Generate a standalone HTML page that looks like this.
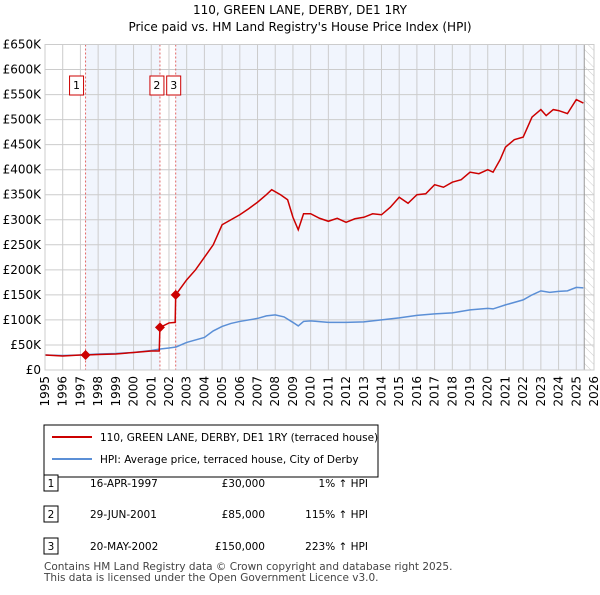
<!DOCTYPE html>
<html><head><meta charset="utf-8"><style>
body{margin:0;background:#fff;width:600px;height:590px;overflow:hidden;font-family:"Liberation Sans","DejaVu Sans",sans-serif}
svg text{font-family:"DejaVu Sans","Liberation Sans",sans-serif}
</style></head><body>
<svg id="c" width="600" height="590" xmlns="http://www.w3.org/2000/svg">
<defs><pattern id="hatch" width="6" height="6" patternUnits="userSpaceOnUse" patternTransform="rotate(-45)"><line x1="0" y1="0" x2="0" y2="6" stroke="#ccc" stroke-width="1"/></pattern></defs>
<text x="300" y="14" text-anchor="middle" font-size="12" fill="#000">110, GREEN LANE, DERBY, DE1 1RY</text>
<text x="300" y="31" text-anchor="middle" font-size="12" fill="#000">Price paid vs. HM Land Registry's House Price Index (HPI)</text>
<g id="plot"></g>
<rect x="44" y="425" width="334" height="52" fill="#fff" stroke="#000" stroke-width="1"/>
<line x1="52" y1="437" x2="92" y2="437" stroke="#cc0000" stroke-width="2"/>
<text x="100" y="441" font-size="10.5">110, GREEN LANE, DERBY, DE1 1RY (terraced house)</text>
<line x1="52" y1="459" x2="92" y2="459" stroke="#5b8fd6" stroke-width="2"/>
<text x="100" y="463" font-size="10.5">HPI: Average price, terraced house, City of Derby</text>
<g font-size="10.5">
<rect x="44" y="475" width="14" height="16" fill="#fff" stroke="#000"/><text x="51" y="487" text-anchor="middle">1</text>
<text x="90" y="487">16-APR-1997</text><text x="265" y="487" text-anchor="end">£30,000</text><text x="368" y="487" text-anchor="end">1% ↑ HPI</text>
<rect x="44" y="506" width="14" height="16" fill="#fff" stroke="#000"/><text x="51" y="518" text-anchor="middle">2</text>
<text x="90" y="518">29-JUN-2001</text><text x="265" y="518" text-anchor="end">£85,000</text><text x="368" y="518" text-anchor="end">115% ↑ HPI</text>
<rect x="44" y="538" width="14" height="16" fill="#fff" stroke="#000"/><text x="51" y="550" text-anchor="middle">3</text>
<text x="90" y="550">20-MAY-2002</text><text x="265" y="550" text-anchor="end">£150,000</text><text x="368" y="550" text-anchor="end">223% ↑ HPI</text>
</g>
<text x="44" y="570" font-size="10.5" fill="#444">Contains HM Land Registry data © Crown copyright and database right 2025.</text>
<text x="44" y="581" font-size="10.5" fill="#444">This data is licensed under the Open Government Licence v3.0.</text>
</svg>
<script>
const yTicks=[0,50,100,150,200,250,300,350,400,450,500,550,600,650];
const years=[1995,1996,1997,1998,1999,2000,2001,2002,2003,2004,2005,2006,2007,2008,2009,2010,2011,2012,2013,2014,2015,2016,2017,2018,2019,2020,2021,2022,2023,2024,2025,2026];
const saleDates=[1997.29,2001.49,2002.38];
const salePrices=[30,85,150];
const hpiT=[1995,1996,1997,1998,1999,2000,2001,2001.5,2002,2002.4,2003,2004,2004.5,2005,2005.5,2006,2007,2007.5,2008,2008.5,2009,2009.3,2009.6,2010,2011,2012,2013,2014,2015,2016,2017,2018,2019,2020,2020.3,2021,2022,2022.5,2023,2023.5,2024,2024.5,2025,2025.4];
const hpiV=[30,29,30,32,33,35,39,42,44,46,55,65,78,87,93,97,103,108,110,106,95,88,97,98,95,95,96,100,104,109,112,114,120,123,122,130,140,150,158,155,157,158,165,164];
const redT=[1995,1996,1997,1997.29,1998,1999,2000,2001,2001.45,2001.49,2002,2002.35,2002.38,2003,2003.5,2004,2004.5,2005,2005.5,2006,2006.5,2007,2007.5,2007.8,2008.3,2008.7,2009,2009.3,2009.6,2010,2010.5,2011,2011.5,2012,2012.5,2013,2013.5,2014,2014.5,2015,2015.5,2016,2016.5,2017,2017.5,2018,2018.5,2019,2019.5,2020,2020.3,2020.7,2021,2021.5,2022,2022.5,2023,2023.3,2023.7,2024,2024.5,2025,2025.4];
const redV=[30,28,30,30,31,32,35,38,38,85,94,95,150,180,200,225,250,290,300,310,322,335,350,360,350,340,305,280,312,312,303,297,303,295,302,305,312,310,325,345,333,350,352,370,365,375,380,395,392,400,395,420,445,460,465,505,520,508,520,518,512,540,533];
const X=t=>45+(t-1995)*(549/31);
const Y=v=>370-v*(325.5/650);
const NS='http://www.w3.org/2000/svg';
const g=document.getElementById('plot');
function mk(tag,attrs){const e=document.createElementNS(NS,tag);for(const k in attrs)e.setAttribute(k,attrs[k]);g.appendChild(e);return e;}
let e;
e=mk('rect',{x:X(1995),y:Y(650),width:X(2026)-X(1995),height:Y(0)-Y(650),fill:'#fff'});


e=mk('rect',{x:X(saleDates[0]),y:Y(650),width:X(saleDates[1])-X(saleDates[0]),height:Y(0)-Y(650),fill:'#eef3fc',opacity:0.8});


e=mk('rect',{x:X(saleDates[2]),y:Y(650),width:X(2025.45)-X(saleDates[2]),height:Y(0)-Y(650),fill:'#eef3fc',opacity:0.8});


e=mk('rect',{x:X(2025.45),y:Y(650),width:X(2026)-X(2025.45),height:Y(0)-Y(650),fill:'url(#hatch)'});


yTicks.forEach(v=>{
 e=mk('line',{x1:X(1995),x2:X(2026),y1:Y(v),y2:Y(v),stroke:'#ccc','stroke-width':1});
 
 
 e=mk('text',{x:41,y:Y(v)+4,'text-anchor':'end','font-size':12});
 e.textContent=v===0?'£0':'£'+v+'K';
 
 
});
years.forEach(yr=>{
 e=mk('line',{x1:X(yr),x2:X(yr),y1:Y(650),y2:Y(0),stroke:'#ccc','stroke-width':1});
 
 
 e=mk('text',{x:0,y:0,'text-anchor':'end','font-size':12,transform:`translate(${X(yr)+4},376) rotate(-90)`});
 e.textContent=yr;
 
 
});
e=mk('line',{x1:X(2025.45),x2:X(2025.45),y1:Y(650),y2:Y(0),stroke:'#999','stroke-width':1});


saleDates.forEach((d,i)=>{
 e=mk('line',{x1:X(d),x2:X(d),y1:Y(650),y2:Y(0),stroke:'#e06666','stroke-width':1,'stroke-dasharray':'2,2'});
 
 
});
e=mk('polyline',{points:hpiT.map((t,i)=>X(t)+','+Y(hpiV[i])).join(' '),fill:'none',stroke:'#5b8fd6','stroke-width':1.5});


e=mk('polyline',{points:redT.map((t,i)=>X(t)+','+Y(redV[i])).join(' '),fill:'none',stroke:'#cc0000','stroke-width':1.5});


saleDates.forEach((d,i)=>{
 const cx=X(d),cy=Y(salePrices[i]);
 e=mk('polygon',{points:`${cx},${cy-5} ${cx+5},${cy} ${cx},${cy+5} ${cx-5},${cy}`,fill:'#cc0000'});
 
 
 const bx=i===0?cx-16:(i===1?cx-10:cx-9);
 e=mk('rect',{x:bx,y:76,width:14,height:19,fill:'#fff',stroke:'#cc0000','stroke-width':1});
 
 
 e=mk('text',{x:bx+7,y:89,'text-anchor':'middle','font-size':11});
 e.textContent=String(i+1);
 
 
});
e=mk('rect',{x:X(1995),y:Y(650),width:X(2026)-X(1995),height:Y(0)-Y(650),fill:'none',stroke:'#ccc'});


</script>
</body></html>
